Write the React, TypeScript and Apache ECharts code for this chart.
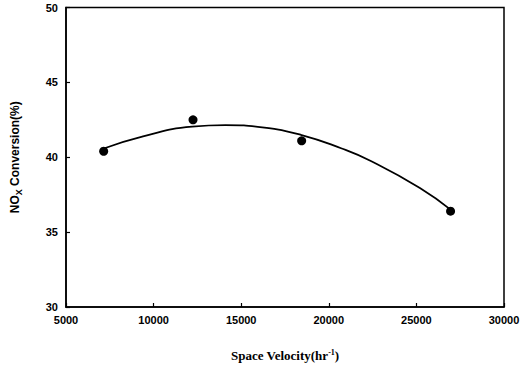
import React, { useEffect, useRef } from "react";
import * as echarts from "echarts";

const xTicks = [5000, 10000, 15000, 20000, 25000, 30000];
const yTicks = [30, 35, 40, 45, 50];
const pointX = [7150, 12250, 18450, 26950];
const pointY = [40.4, 42.5, 41.1, 36.4];
const fitX = [7200, 9400, 12200, 14100, 16200, 18400, 20700, 22400, 25200, 26950];
const fitY = [40.6, 41.4, 42.05, 42.15, 42.0, 41.5, 40.6, 39.75, 37.95, 36.5];

export default function App() {
  const ref = useRef<HTMLDivElement>(null);
  useEffect(() => {
    if (!ref.current) return;
    const chart = echarts.init(ref.current, null, { renderer: "svg" });
    const sans = "Liberation Sans, Arial, sans-serif";
    const serif = "Liberation Serif, Times New Roman, serif";
    chart.setOption({
      animation: false,
      backgroundColor: "#ffffff",
      grid: {
        left: 62,
        right: 27,
        top: 7.5,
        bottom: 52.5,
        show: true,
        borderColor: "#000",
        borderWidth: 1.5,
        backgroundColor: "transparent",
      },
      xAxis: {
        type: "value",
        min: xTicks[0],
        max: xTicks[xTicks.length - 1],
        interval: 5000,
        name: "{a|Space Velocity(hr}{sup|-1}{a|)}",
        nameLocation: "middle",
        nameGap: 41,
        nameTextStyle: {
          rich: {
            a: { fontFamily: serif, fontWeight: "bold", fontSize: 13, color: "#000", lineHeight: 15 },
            sup: { fontFamily: serif, fontWeight: "bold", fontSize: 8, color: "#000", verticalAlign: "top", lineHeight: 15 },
          },
        },
        axisLine: { show: true, lineStyle: { color: "#000", width: 1.5 } },
        axisTick: { show: true, inside: true, length: 4, lineStyle: { color: "#000", width: 1.2 } },
        axisLabel: {
          color: "#000",
          fontFamily: sans,
          fontWeight: "bold",
          fontSize: 11,
          margin: 7,
          formatter: (v: number) => String(v),
        },
        splitLine: { show: false },
      },
      yAxis: {
        type: "value",
        min: yTicks[0],
        max: yTicks[yTicks.length - 1],
        interval: 5,
        name: "{a|NO}{sub|X}{a| Conversion(%)}",
        nameLocation: "middle",
        nameGap: 43,
        nameTextStyle: {
          rich: {
            a: { fontFamily: sans, fontWeight: "bold", fontSize: 12, color: "#000", lineHeight: 16 },
            sub: { fontFamily: sans, fontWeight: "bold", fontSize: 9, color: "#000", verticalAlign: "bottom", lineHeight: 16, padding: [6, 0, 0, 0] },
          },
        },
        axisLine: { show: true, lineStyle: { color: "#000", width: 1.5 } },
        axisTick: { show: true, inside: true, length: 4, lineStyle: { color: "#000", width: 1.2 } },
        axisLabel: { color: "#000", fontFamily: sans, fontWeight: "bold", fontSize: 11, margin: 8 },
        splitLine: { show: false },
      },
      series: [
        {
          type: "line",
          data: fitX.map((x, i) => [x, fitY[i]]),
          smooth: 0.5,
          showSymbol: false,
          symbol: "none",
          lineStyle: { color: "#000", width: 1.8 },
        },
        {
          type: "scatter",
          data: pointX.map((x, i) => [x, pointY[i]]),
          symbol: "circle",
          symbolSize: 9,
          itemStyle: { color: "#000", opacity: 1 },
        },
      ],
    });
    return () => chart.dispose();
  }, []);
  return <div ref={ref} style={{ width: 531, height: 367, position: "absolute", left: 0, top: 0 }} />;
}
